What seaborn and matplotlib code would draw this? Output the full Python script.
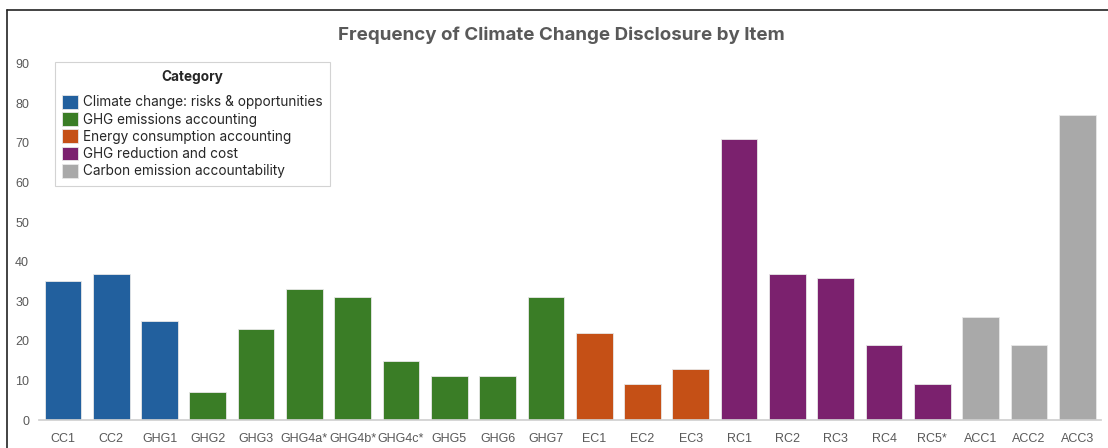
import pandas as pd
import matplotlib.pyplot as plt
import seaborn as sns
from matplotlib.lines import Line2D

# data
items = ['CC1', 'CC2', 'GHG1', 'GHG2', 'GHG3', 'GHG4a*', 'GHG4b*', 'GHG4c*', 'GHG5', 'GHG6', 'GHG7',
         'EC1', 'EC2', 'EC3', 'RC1', 'RC2', 'RC3', 'RC4', 'RC5*', 'ACC1', 'ACC2', 'ACC3']
counts = [35, 37, 25, 7, 23, 33, 31, 15, 11, 11, 31,
          22, 9, 13, 71, 37, 36, 19, 9, 26, 19, 77]
categories = ['Climate change: risks & opportunities', 'GHG emissions accounting',
              'Energy consumption accounting', 'GHG reduction and cost',
              'Carbon emission accountability']
cat_sizes = [3, 8, 3, 5, 3]
colors = ['#22609E', '#3A7D26', '#C55016', '#7B216E', '#A9A9A9']

cat_col = []
for c, n in zip(categories, cat_sizes):
    cat_col += [c] * n
df = pd.DataFrame({'item': items, 'count': counts, 'category': cat_col})

sns.set_theme(style='white')
plt.rcParams['font.family'] = ['Liberation Sans', 'DejaVu Sans']

fig = plt.figure(figsize=(11.08, 4.48), dpi=100)
ax = fig.add_axes([0.035, 0.0625, 0.959, 0.795])

sns.barplot(data=df, x='item', y='count', hue='category', palette=colors, saturation=1,
            dodge=False, width=0.76, edgecolor='#e8e8e8', linewidth=0.6, ax=ax)

ax.set_xlim(-0.5, len(items) - 0.5)
ax.set_ylim(0, 90)
ax.set_yticks(range(0, 91, 10))
ax.set_xlabel('')
ax.set_ylabel('')
for s in ['top', 'right', 'left']:
    ax.spines[s].set_visible(False)
ax.spines['bottom'].set_color('#d0d0d0')
ax.tick_params(axis='both', colors='#595959', labelsize=9, length=0)
ax.tick_params(axis='x', pad=9)
ax.tick_params(axis='y', pad=7)

leg = ax.legend(title='Category', loc='upper left', bbox_to_anchor=(0.015, 1.005), borderaxespad=0,
                title_fontproperties={'weight': 'bold', 'size': 9.8, 'family': 'Inter'},
                prop={'family': 'Inter', 'size': 9.8},
                frameon=True, fancybox=False, edgecolor='#c8c8c8',
                handlelength=1.15, handleheight=1.2, handletextpad=0.35,
                labelspacing=0.2, borderpad=0.55)
leg.get_frame().set_linewidth(0.8)
leg._legend_box.sep = 8  # extra room under the legend title

fig.text(0.507, 0.922, 'Frequency of Climate Change Disclosure by Item', ha='center', va='center',
         fontsize=13.5, fontweight='bold', color='#595959', family='Inter')

# screenshot frame on left and top
fig.add_artist(Line2D([0.0065, 0.0065], [0, 0.978], color='#222222', lw=1.2, transform=fig.transFigure))
fig.add_artist(Line2D([0.0065, 1.0], [0.978, 0.978], color='#222222', lw=1.2, transform=fig.transFigure))

fig.savefig('out.png', dpi=100)
